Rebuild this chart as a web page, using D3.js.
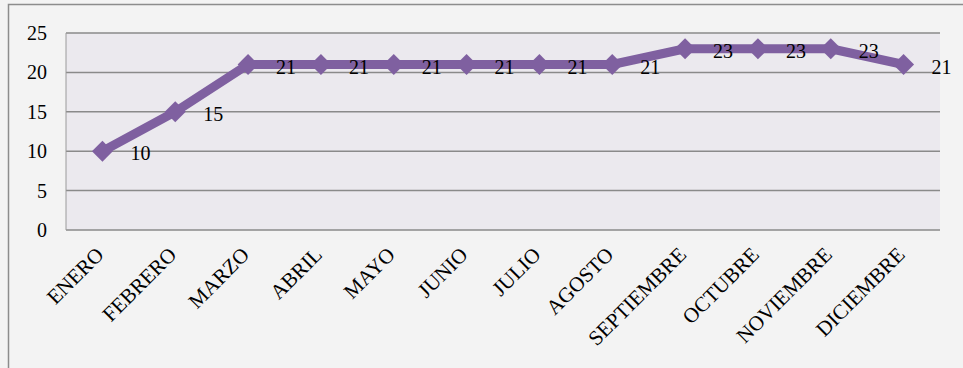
<!DOCTYPE html>
<html>
<head>
<meta charset="utf-8">
<script src="https://cdn.jsdelivr.net/npm/d3@7"></script>
<style>
  html, body { margin: 0; padding: 0; background: #f3f3f3; }
  svg { display: block; }
</style>
</head>
<body>
<svg id="chart" width="963" height="368"></svg>
<script>
// Monthly values
const months = ["ENERO", "FEBRERO", "MARZO", "ABRIL", "MAYO", "JUNIO", "JULIO",
  "AGOSTO", "SEPTIEMBRE", "OCTUBRE", "NOVIEMBRE", "DICIEMBRE"];
const values = [10, 15, 21, 21, 21, 21, 21, 21, 23, 23, 23, 21];
const yTicks = [0, 5, 10, 15, 20, 25];

const svg = d3.select("#chart");
const W = 963, H = 368;
const plot = { left: 66, right: 940, top: 33, bottom: 230 };
const font = "Liberation Serif, Times New Roman, serif";

// outer frame
svg.append("rect").attr("x", 0).attr("y", 0).attr("width", W).attr("height", H).attr("fill", "#f3f3f3");
svg.append("path")
  .attr("d", `M8.5,${H} V4.5 H${W}`)
  .attr("fill", "none").attr("stroke", "#8c8c8c").attr("stroke-width", 1.5);

const x = d3.scalePoint().domain(months).range([plot.left, plot.right]).padding(0.5);
const y = d3.scaleLinear().domain([0, 25]).range([plot.bottom, plot.top]);

// plot area
svg.append("rect")
  .attr("x", plot.left).attr("y", plot.top)
  .attr("width", plot.right - plot.left).attr("height", plot.bottom - plot.top)
  .attr("fill", "#ebe9ee");

// gridlines
svg.append("g").selectAll("line").data(yTicks).join("line")
  .attr("x1", plot.left).attr("x2", plot.right)
  .attr("y1", d => y(d)).attr("y2", d => y(d))
  .attr("stroke", "#8a8a8a").attr("stroke-width", 1.5);

// left axis line
svg.append("line")
  .attr("x1", plot.left).attr("x2", plot.left)
  .attr("y1", plot.top).attr("y2", plot.bottom)
  .attr("stroke", "#9a9a9a").attr("stroke-width", 1);

// y axis labels
const yAxis = d3.axisLeft(y).tickValues(yTicks).tickSize(0).tickPadding(19);
const gy = svg.append("g").attr("transform", `translate(${plot.left},0)`).call(yAxis);
gy.select(".domain").remove();
gy.attr("font-family", font).attr("font-size", 20);
gy.selectAll("text").attr("fill", "#000");

// x axis labels, rotated
const xAxis = d3.axisBottom(x).tickSize(0).tickPadding(0);
const gx = svg.append("g").attr("transform", `translate(0,${plot.bottom})`).call(xAxis);
gx.select(".domain").remove();
gx.attr("font-family", font).attr("font-size", 21);
gx.selectAll("text")
  .attr("fill", "#000")
  .attr("text-anchor", "end")
  .attr("dy", 0)
  .attr("transform", "translate(2,26) rotate(-45)");

// line
const color = "#7f60a0";
svg.append("path")
  .datum(values)
  .attr("fill", "none").attr("stroke", color).attr("stroke-width", 9)
  .attr("stroke-linejoin", "round")
  .attr("d", d3.line().x((d, i) => x(months[i])).y(d => y(d)));

// diamond markers
const diamond = d3.symbol().type(d3.symbolDiamond2).size(280);
svg.append("g").selectAll("path").data(values).join("path")
  .attr("transform", (d, i) => `translate(${x(months[i])},${y(d)})`)
  .attr("d", diamond)
  .attr("fill", color);

// data labels
svg.append("g").selectAll("text").data(values).join("text")
  .attr("x", (d, i) => x(months[i]) + 28)
  .attr("y", d => y(d) + 9)
  .attr("font-family", font).attr("font-size", 20).attr("fill", "#000")
  .text(d => d);
</script>
</body>
</html>
